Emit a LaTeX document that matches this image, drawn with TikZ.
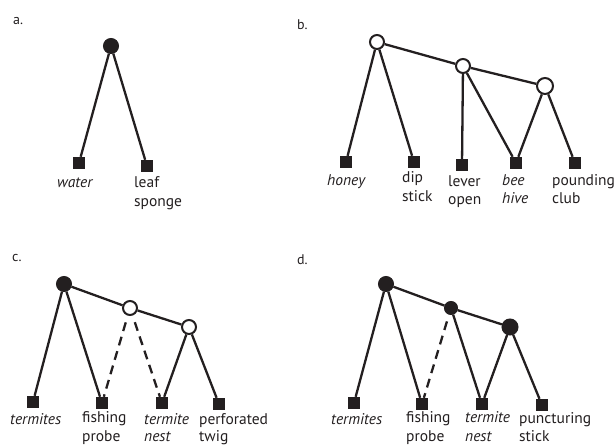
\documentclass[tikz,border=0pt]{standalone}
\usepackage{fontspec}
\setmainfont{PT Sans}
\definecolor{ink}{HTML}{231F20}
\begin{document}
\begin{tikzpicture}[x=1pt,y=-1pt,
  edge/.style={draw=ink,line width=2.3pt},
  dash edge/.style={edge,dash pattern=on 9pt off 6pt,shorten <=7pt},
  fullnode/.style={circle,fill=ink,draw=ink,line width=1pt,minimum size=15pt,inner sep=0pt},
  opennode/.style={circle,fill=white,draw=ink,line width=2pt,minimum size=14pt,inner sep=0pt},
  leaf/.style={rectangle,fill=ink,minimum size=12pt,inner sep=0pt},
  lbl/.style={anchor=base west,inner sep=0pt,text=ink,font=\fontsize{15.5}{18}\selectfont},
  ilbl/.style={lbl,font=\fontsize{15.5}{18}\selectfont\itshape},
  panel/.style={anchor=base west,inner sep=0pt,text=ink,font=\fontsize{14}{16}\selectfont}]
\useasboundingbox (0,0) rectangle (616,446);

% ---------- a ----------
\node[panel] (pa) at (13,25) {a.};
\node[fullnode] (a0) at (111,46) {};
\node[leaf] (a1) at (79,163) {};
\node[leaf] (a2) at (147,166) {};
\draw[edge] (a0) -- (a1);
\draw[edge] (a0) -- (a2);
\node[ilbl] (ta1) at (57,188) {water};
\node[lbl] (ta2) at (134,188) {leaf};
\node[lbl] (ta3) at (134,207) {sponge};

% ---------- b ----------
\node[panel] (pb) at (297,30) {b.};
\node[opennode] (b1) at (377,42) {};
\node[opennode] (b2) at (463,66) {};
\node[opennode,minimum size=16pt] (b3) at (545,86) {};
\node[leaf] (bl1) at (346,162) {};
\node[leaf] (bl2) at (414,162) {};
\node[leaf] (bl3) at (462,165) {};
\node[leaf] (bl4) at (516,163) {};
\node[leaf] (bl5) at (575,163) {};
\draw[edge] (b1) -- (bl1);
\draw[edge] (b1) -- (bl2);
\draw[edge] (b1) -- (b2);
\draw[edge] (b2) -- (bl3);
\draw[edge] (b2) -- (bl4);
\draw[edge] (b2) -- (b3);
\draw[edge] (b3) -- (bl4);
\draw[edge] (b3) -- (bl5);
\node[ilbl] (tb1) at (327,186) {honey};
\node[lbl] (tb2) at (402,183) {dip};
\node[lbl] (tb3) at (402,202) {stick};
\node[lbl] (tb4) at (448,187) {lever};
\node[lbl] (tb5) at (448,205) {open};
\node[ilbl] (tb6) at (502,186) {bee};
\node[ilbl] (tb7) at (502,204) {hive};
\node[lbl] (tb8) at (552,186) {pounding};
\node[lbl] (tb9) at (552,204) {club};

% ---------- c ----------
\node[panel] (pc) at (12,262) {c.};
\node[fullnode] (c1) at (64,284) {};
\node[opennode] (c2) at (130,308) {};
\node[opennode] (c3) at (189,327) {};
\node[leaf] (cl1) at (33,402) {};
\node[leaf] (cl2) at (102,403) {};
\node[leaf] (cl3) at (162,403) {};
\node[leaf] (cl4) at (219,404) {};
\draw[edge] (c1) -- (cl1);
\draw[edge] (c1) -- (cl2);
\draw[edge] (c1) -- (c2);
\draw[dash edge] (c2) -- (cl2);
\draw[dash edge] (c2) -- (cl3);
\draw[edge] (c2) -- (c3);
\draw[edge] (c3) -- (cl3);
\draw[edge] (c3) -- (cl4);
\node[ilbl] (tc1) at (10,424) {termites};
\node[lbl] (tc2) at (82,422) {fishing};
\node[lbl] (tc3) at (82,441) {probe};
\node[ilbl] (tc4) at (144,424) {termite};
\node[ilbl] (tc5) at (144,441) {nest};
\node[lbl] (tc6) at (199,424) {perforated};
\node[lbl] (tc7) at (199,441) {twig};

% ---------- d ----------
\node[panel] (pd) at (297,265) {d.};
\node[fullnode] (d1) at (386,284) {};
\node[fullnode,minimum size=13pt] (d2) at (451,308) {};
\node[fullnode,minimum size=16pt] (d3) at (510,327) {};
\node[leaf] (dl1) at (354,403) {};
\node[leaf] (dl2) at (422,404) {};
\node[leaf] (dl3) at (482,404) {};
\node[leaf] (dl4) at (542,405) {};
\draw[edge] (d1) -- (dl1);
\draw[edge] (d1) -- (dl2);
\draw[edge] (d1) -- (d2);
\draw[dash edge] (d2) -- (dl2);
\draw[edge] (d2) -- (dl3);
\draw[edge] (d2) -- (d3);
\draw[edge] (d3) -- (dl3);
\draw[edge] (d3) -- (dl4);
\node[ilbl] (td1) at (331,424) {termites};
\node[lbl] (td2) at (406,422) {fishing};
\node[lbl] (td3) at (406,441) {probe};
\node[ilbl] (td4) at (465,422) {termite};
\node[ilbl] (td5) at (465,441) {nest};
\node[lbl] (td6) at (519,423) {puncturing};
\node[lbl] (td7) at (519,441) {stick};
\end{tikzpicture}
\end{document}
